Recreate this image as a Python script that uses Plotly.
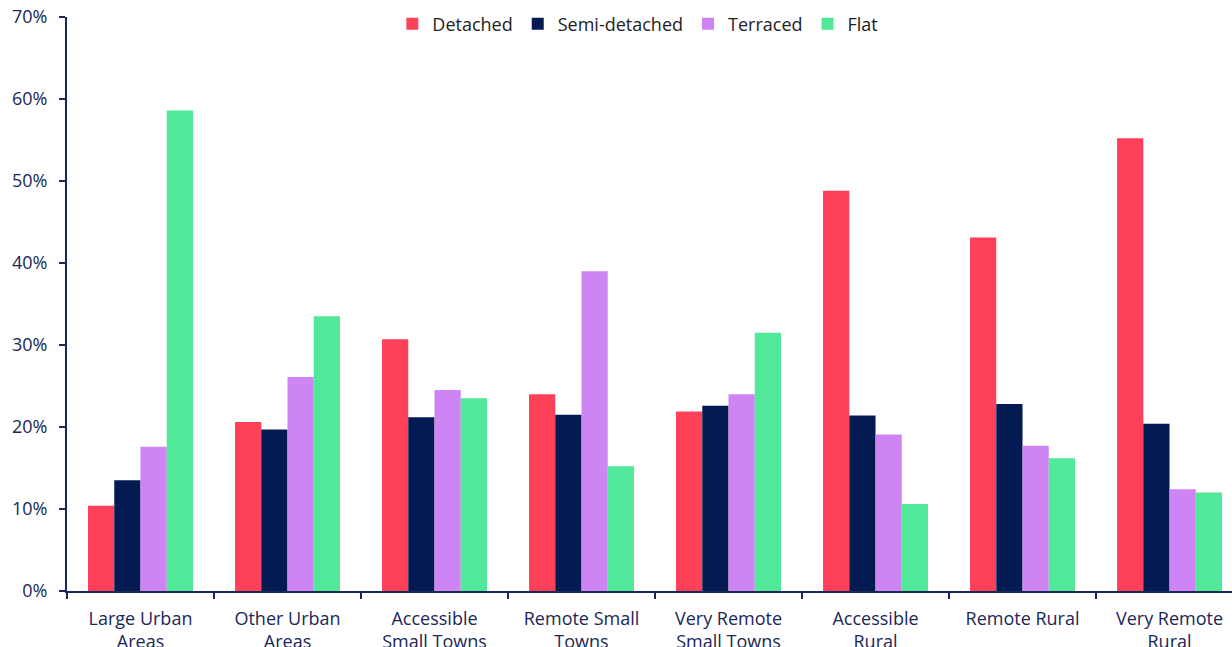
import plotly.graph_objects as go

categories = [
    "Large Urban<br>Areas",
    "Other Urban<br>Areas",
    "Accessible<br>Small Towns",
    "Remote Small<br>Towns",
    "Very Remote<br>Small Towns",
    "Accessible<br>Rural",
    "Remote Rural",
    "Very Remote<br>Rural",
]

detached = [10.4, 20.6, 30.7, 24.0, 21.9, 48.8, 43.1, 55.2]
semi_detached = [13.5, 19.7, 21.2, 21.5, 22.6, 21.4, 22.8, 20.4]
terraced = [17.6, 26.1, 24.5, 39.0, 24.0, 19.1, 17.7, 12.4]
flat = [58.6, 33.5, 23.5, 15.2, 31.5, 10.6, 16.2, 12.0]

series = [
    ("Detached", detached, "#FF4059"),
    ("Semi-detached", semi_detached, "#041A52"),
    ("Terraced", terraced, "#CF84F3"),
    ("Flat", flat, "#52E89A"),
]

navy = "#1B2757"
font_family = "'Open Sans', Lato, sans-serif"

fig = go.Figure()
for name, values, color in series:
    fig.add_trace(go.Bar(
        name=name,
        x=categories,
        y=values,
        marker=dict(color=color, line=dict(width=0)),
    ))

fig.update_layout(
    width=1232,
    height=647,
    margin=dict(l=67, r=0, t=17, b=56, autoexpand=False),
    paper_bgcolor="white",
    plot_bgcolor="white",
    barmode="group",
    bargap=0.286,
    bargroupgap=0,
    font=dict(family=font_family, color=navy, size=17),
    legend=dict(
        orientation="h",
        x=0.49, xanchor="center",
        y=1.02, yanchor="top",
        font=dict(size=18, color="#222222"),
        itemwidth=30,
        traceorder="normal",
    ),
    showlegend=True,
)

fig.update_xaxes(
    type="category",
    range=[-0.5, 7.425],
    showline=True,
    linecolor=navy,
    linewidth=2,
    ticks="outside",
    tickson="boundaries",
    ticklen=6,
    tickwidth=2,
    tickcolor=navy,
    ticklabelstandoff=10,
    tickfont=dict(size=18, color=navy),
    showgrid=False,
    automargin=False,
)

fig.update_yaxes(
    range=[0, 70],
    dtick=10,
    ticksuffix="%",
    showline=True,
    linecolor=navy,
    linewidth=2,
    ticks="outside",
    ticklen=6,
    tickwidth=2,
    tickcolor=navy,
    ticklabelstandoff=8,
    tickfont=dict(size=18, color=navy),
    showgrid=False,
    zeroline=False,
    automargin=False,
)

fig.write_html("out.html")
